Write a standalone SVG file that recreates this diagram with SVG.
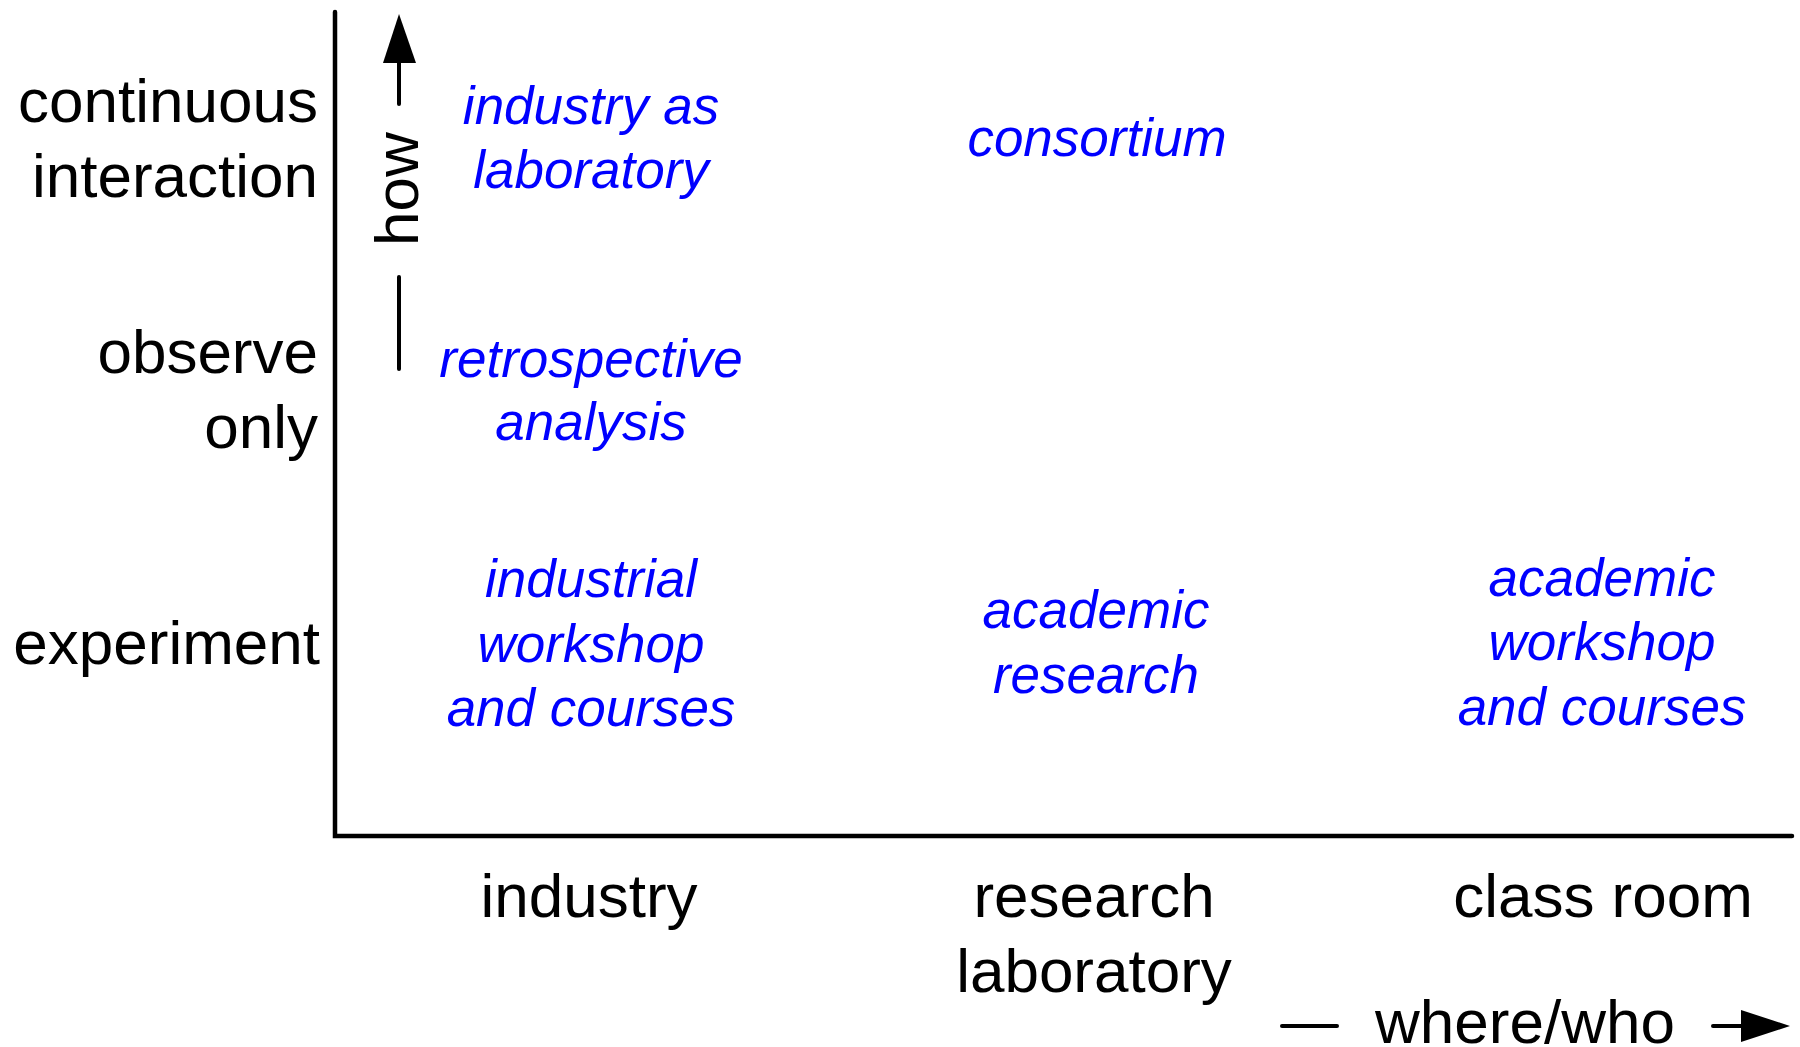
<svg xmlns="http://www.w3.org/2000/svg" width="1800" height="1047" viewBox="0 0 1800 1047">
<style>
.lbl{font-family:"Liberation Sans",Arial,sans-serif;font-size:62px;fill:#000}
.end{text-anchor:end}
.mid{text-anchor:middle}
.blue{font-family:"Liberation Sans",Arial,sans-serif;font-size:53px;font-style:italic;fill:#0000ff;text-anchor:middle}
.ax{stroke:#000;stroke-width:4.5;fill:none;stroke-linecap:round;stroke-linejoin:miter}
.thin{stroke:#000;stroke-width:4;fill:none;stroke-linecap:round}
</style>
<rect width="1800" height="1047" fill="#fff"/>
<g id="connectors">
  <path class="ax" d="M335,12 L335,836 L1792,836"/>
  <line class="thin" x1="399" y1="104" x2="399" y2="60"/>
  <polygon points="399,14 383,63 416,63" fill="#000"/>
  <line class="thin" x1="399" y1="277" x2="399" y2="369"/>
  <line class="thin" x1="1282" y1="1026" x2="1337" y2="1026"/>
  <line class="thin" x1="1713" y1="1026" x2="1745" y2="1026"/>
  <polygon points="1790,1026 1741,1010 1741,1042" fill="#000"/>
</g>
<g id="axis-how"><text class="lbl mid" transform="translate(418,189) rotate(-90)">how</text></g>
<g id="axis-where"><text class="lbl mid" x="1525" y="1043">where/who</text></g>
<g id="row-continuous"><text class="lbl end" x="318" y="122">continuous</text><text class="lbl end" x="318" y="197">interaction</text></g>
<g id="row-observe"><text class="lbl end" x="318" y="373">observe</text><text class="lbl end" x="318" y="448">only</text></g>
<g id="row-experiment"><text class="lbl end" x="320" y="664">experiment</text></g>
<g id="col-industry"><text class="lbl mid" x="589" y="917">industry</text></g>
<g id="col-research"><text class="lbl mid" x="1094" y="917">research</text><text class="lbl mid" x="1094" y="992">laboratory</text></g>
<g id="col-classroom"><text class="lbl mid" x="1603" y="917">class room</text></g>
<g id="industry-as-laboratory"><text class="blue" x="591" y="124">industry as</text><text class="blue" x="591" y="188">laboratory</text></g>
<g id="consortium"><text class="blue" x="1097" y="156">consortium</text></g>
<g id="retrospective-analysis"><text class="blue" x="591" y="377">retrospective</text><text class="blue" x="591" y="440">analysis</text></g>
<g id="industrial-workshop"><text class="blue" x="591" y="597">industrial</text><text class="blue" x="591" y="662">workshop</text><text class="blue" x="591" y="726">and courses</text></g>
<g id="academic-research"><text class="blue" x="1096" y="628">academic</text><text class="blue" x="1096" y="693">research</text></g>
<g id="academic-workshop"><text class="blue" x="1602" y="596">academic</text><text class="blue" x="1602" y="660">workshop</text><text class="blue" x="1602" y="725">and courses</text></g>
</svg>
